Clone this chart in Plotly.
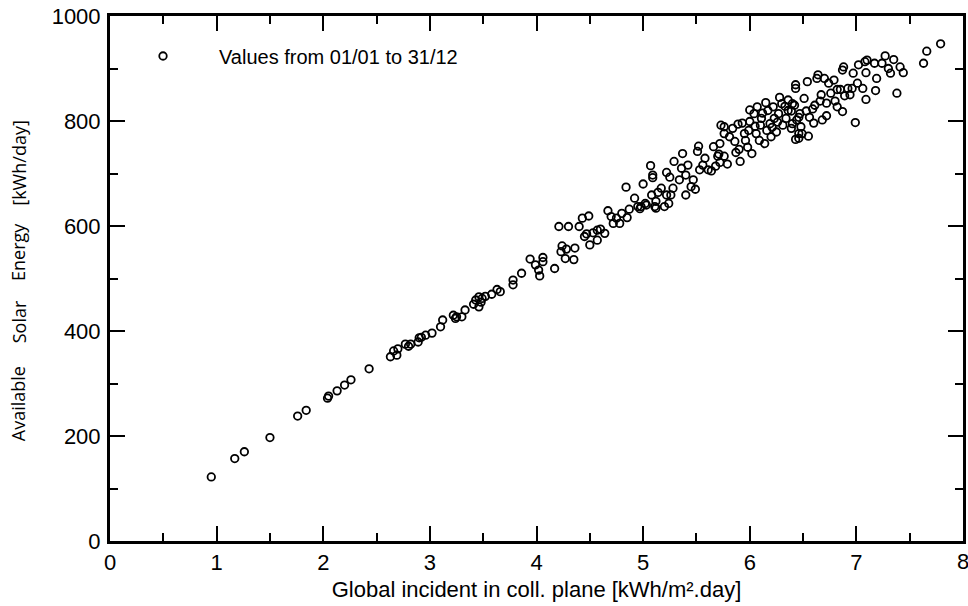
import plotly.graph_objects as go

# Global incident irradiation in collector plane [kWh/m².day]
x_vals = [
    0.95, 1.17, 1.26, 1.50, 1.76, 1.84, 2.04, 2.05, 2.13, 2.20, 2.26, 2.43, 2.63, 2.66, 2.69, 2.70,
    2.77, 2.80, 2.82, 2.89, 2.90, 2.92, 2.96, 3.02, 3.10, 3.12, 3.22, 3.24, 3.25, 3.30, 3.33, 3.41,
    3.43, 3.46, 3.49, 3.46, 3.48, 3.52, 3.58, 3.63, 3.66, 3.78, 3.78, 3.86, 3.94, 3.99, 4.02, 4.03,
    4.06, 4.06, 4.17, 4.21, 4.30, 4.24, 4.23, 4.27, 4.28, 4.35, 4.36, 4.40, 4.43, 4.49, 4.45, 4.47,
    4.50, 4.53, 4.57, 4.60, 4.57, 4.64, 4.67, 4.70, 4.72, 4.75, 4.78, 4.80, 4.85, 4.87, 4.84, 4.92,
    4.95, 4.97, 5.00, 5.03, 5.08, 5.12, 5.12, 5.14, 5.17, 5.20, 5.22,
    5.07, 5.09, 5.09, 4.98, 5.02, 5.11, 5.22, 5.25, 5.24, 5.26, 5.28, 5.29, 5.36, 5.34, 5.37, 5.40,
    5.40, 5.42, 5.45, 5.47, 5.49, 5.51, 5.52, 5.53, 5.56, 5.58, 5.61, 5.64, 5.66, 5.68, 5.70, 5.72,
    5.73, 5.76, 5.76, 5.71, 5.72, 5.76, 5.79, 5.81, 5.84, 5.86, 5.87, 5.90, 5.91, 5.93, 5.95, 5.96,
    5.98, 5.99, 6.00, 6.02, 6.04, 6.06, 6.07, 6.09, 6.10, 6.11, 6.14, 6.16, 6.17, 6.19, 6.20, 6.22,
    6.23, 6.25, 6.27, 6.30, 6.31, 6.34, 6.36, 6.39, 6.40, 6.43, 6.44, 6.46, 6.47, 6.49,
    5.89, 6.00, 6.43, 6.36, 6.64, 6.12, 6.26, 6.33, 6.21, 6.05, 6.28, 6.15,
    7.79, 7.66, 7.63, 7.44, 7.41, 7.38, 7.35, 7.32, 7.30, 7.27, 7.24, 7.19, 7.18, 7.17, 7.10, 7.08,
    7.09, 7.09, 7.06, 7.02, 7.01, 6.99, 6.97, 6.96, 6.94, 6.92, 6.88, 6.89, 6.87, 6.85, 6.82, 6.80,
    6.79, 6.74, 6.76, 6.72, 6.70, 6.67, 6.66, 6.63, 6.68, 6.60, 6.59, 6.55, 6.46, 6.54, 6.43, 6.51,
    6.42, 6.39, 6.53, 6.56, 6.46, 6.48, 6.40, 6.61, 6.72, 6.82, 6.87,
]

# Available solar energy [kWh/day]
y_vals = [
    122, 157, 170, 197, 238, 249, 272, 276, 286, 297, 307, 328, 351, 362, 354, 366,
    375, 371, 375, 379, 387, 388, 392, 396, 408, 421, 430, 424, 427, 427, 440, 451,
    459, 465, 462, 446, 455, 466, 470, 479, 475, 497, 488, 510, 537, 526, 516, 505,
    540, 532, 519, 599, 599, 562, 551, 538, 556, 536, 558, 599, 615, 619, 580, 585,
    564, 587, 592, 594, 573, 586, 629, 618, 605, 615, 605, 624, 616, 632, 674, 653,
    637, 633, 680, 640, 659, 634, 647, 664, 672, 637, 659,
    715, 697, 692, 637, 643, 637, 702, 693, 643, 659, 672, 723, 710, 688, 738, 697,
    659, 716, 675, 688, 670, 742, 752, 707, 716, 729, 707, 705, 751, 714, 733, 757,
    792, 776, 789, 737, 721, 733, 718, 770, 786, 761, 740, 746, 723, 796, 776, 763,
    750, 782, 799, 738, 814, 776, 827, 763, 792, 805, 757, 782, 820, 795, 770, 827,
    805, 779, 814, 833, 792, 805, 820, 786, 833, 765, 802, 776, 814, 776,
    794, 821, 869, 840, 888, 815, 798, 828, 788, 790, 845, 835,
    947, 933, 910, 892, 903, 853, 917, 891, 900, 924, 910, 881, 858, 910, 916, 913,
    892, 841, 862, 907, 872, 797, 891, 862, 850, 862, 903, 848, 818, 860, 827, 838,
    878, 872, 853, 834, 881, 850, 838, 881, 802, 796, 823, 771, 767, 875, 862, 843,
    830, 819, 819, 807, 807, 789, 795, 830, 810, 860, 897,
]

series_name = "Values from 01/01 to 31/12"
x_title = "Global incident in coll. plane [kWh/m².day]"
y_title_words = ["Available", "Solar", "Energy", "[kWh/day]"]
x_max_label = "8"

FONT = "Liberation Sans, Arial, sans-serif"

fig = go.Figure(
    go.Scatter(
        x=x_vals,
        y=y_vals,
        mode="markers",
        name=series_name,
        showlegend=True,
        marker=dict(symbol="circle-open", size=7.5, color="black", line=dict(width=1.8, color="black")),
    )
)

axis_common = dict(
    showline=True,
    linewidth=3,
    linecolor="black",
    mirror="allticks",
    ticks="inside",
    ticklen=15,
    tickwidth=2,
    tickcolor="black",
    showgrid=False,
    zeroline=False,
    tickfont=dict(family=FONT, size=22, color="black"),
)

fig.update_xaxes(
    range=[0, 8],
    tick0=0,
    dtick=1,
    minor=dict(ticks="inside", ticklen=8, tickwidth=2, tickcolor="black", dtick=0.5, showgrid=False),
    title=dict(text=x_title, font=dict(family=FONT, size=22, color="black"), standoff=8),
    **axis_common,
)
fig.update_yaxes(
    range=[0, 1000],
    tick0=0,
    dtick=200,
    minor=dict(ticks="inside", ticklen=8, tickwidth=2, tickcolor="black", dtick=100, showgrid=False),
    ticklabelstandoff=2,
    **axis_common,
)

# last x tick label at the right edge (clipped in the original)
fig.add_annotation(
    text=x_max_label,
    xref="x",
    yref="paper",
    x=8,
    y=0,
    xanchor="center",
    yanchor="top",
    yshift=-6,
    showarrow=False,
    font=dict(family=FONT, size=22, color="black"),
)

# spaced rotated y-axis title
word_pos = [0.262, 0.418, 0.550, 0.720]
for w, p in zip(y_title_words, word_pos):
    fig.add_annotation(
        text=w,
        xref="paper",
        yref="paper",
        x=-0.107,
        y=p,
        xanchor="center",
        yanchor="middle",
        textangle=-90,
        showarrow=False,
        font=dict(family="Open Sans, sans-serif", size=18, color="black"),
    )

fig.update_layout(
    width=968,
    height=606,
    margin=dict(l=110, r=2, t=16, b=65, pad=0),
    paper_bgcolor="white",
    plot_bgcolor="white",
    showlegend=True,
    legend=dict(
        x=-0.0035,
        y=0.961,
        xanchor="left",
        yanchor="top",
        bgcolor="rgba(0,0,0,0)",
        font=dict(family=FONT, size=20, color="black"),
        itemwidth=102,
    ),
)

fig.write_html("out.html")
